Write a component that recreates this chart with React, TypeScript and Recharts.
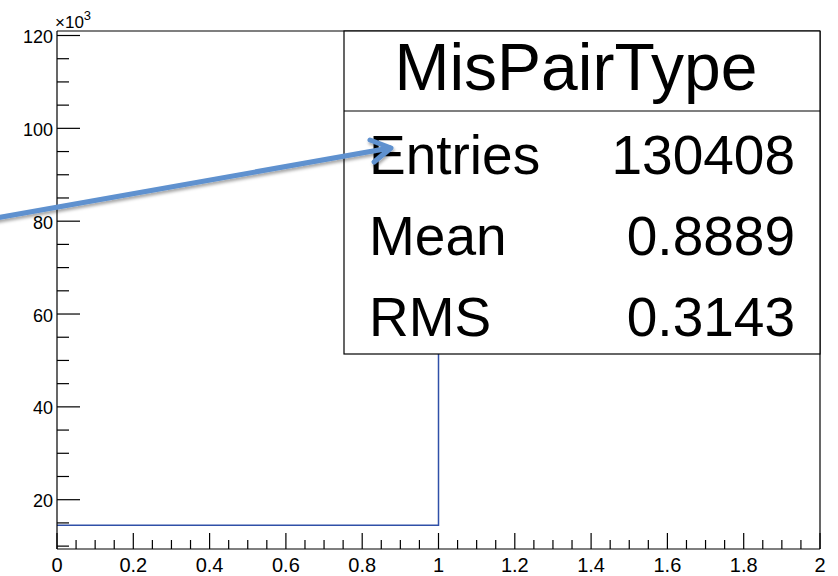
import React from 'react';
import { LineChart, Line, XAxis, YAxis } from 'recharts';

// histogram MisPairType, counts in units of 10^3
const binLowEdges = [0, 1, 2];
const binCounts = [14.49, 115.92, 115.92];

const xTicks = [
  0, 0.05, 0.1, 0.15, 0.2, 0.25, 0.3, 0.35, 0.4, 0.45, 0.5, 0.55, 0.6, 0.65, 0.7, 0.75, 0.8, 0.85, 0.9, 0.95,
  1, 1.05, 1.1, 1.15, 1.2, 1.25, 1.3, 1.35, 1.4, 1.45, 1.5, 1.55, 1.6, 1.65, 1.7, 1.75, 1.8, 1.85, 1.9, 1.95, 2,
];
const xLabels = [0, 0.2, 0.4, 0.6, 0.8, 1, 1.2, 1.4, 1.6, 1.8, 2];
const yTicks = [10, 15, 20, 25, 30, 35, 40, 45, 50, 55, 60, 65, 70, 75, 80, 85, 90, 95, 100, 105, 110, 115, 120];
const yLabels = [20, 40, 60, 80, 100, 120];

const statTitle = 'MisPairType';
const statNames = ['Entries', 'Mean', 'RMS'];
const statValues = ['130408', '0.8889', '0.3143'];

const data = binLowEdges.map((x, i) => ({ x, y: binCounts[i] }));

const W = 838;
const H = 576;
const LEFT = 57;
const RIGHT = 820;
const TOP = 31;
const BOTTOM = 549;
const font = '"Liberation Sans", Arial, Helvetica, sans-serif';

const near = (list: number[], v: number) => list.some((l) => Math.abs(l - v) < 1e-6);

const YTick = (props: any) => {
  const { y, payload } = props;
  const v = payload.value;
  const major = near(yLabels, v);
  return (
    <g>
      <line x1={LEFT} x2={LEFT + (major ? 23 : 12)} y1={y} y2={y} stroke="#000" strokeWidth={1.2} />
      {major && (
        <text x={LEFT - 4} y={y + 1.5} textAnchor="end" dominantBaseline="central" fontSize={18} fontFamily={font} fill="#000">
          {v}
        </text>
      )}
    </g>
  );
};

const XTick = (props: any) => {
  const { x, payload } = props;
  const v = payload.value;
  const major = near(xLabels, v);
  return (
    <g>
      <line x1={x} x2={x} y1={BOTTOM} y2={BOTTOM - (major ? 16 : 9)} stroke="#000" strokeWidth={1.2} />
      {major && (
        <text x={x} y={572} textAnchor="middle" fontSize={20} fontFamily={font} fill="#000">
          {String(v)}
        </text>
      )}
    </g>
  );
};

export default function App() {
  const bx = 344;
  const by = TOP;
  const bw = RIGHT - bx;
  const bh = 323;
  return (
    <div style={{ position: 'absolute', left: 0, top: 0, width: W, height: H, background: '#fff' }}>
      <LineChart width={W} height={H} data={data} margin={{ top: TOP, right: W - RIGHT, bottom: 0, left: 0 }}>
        <XAxis
          dataKey="x"
          type="number"
          domain={[0, 2]}
          ticks={xTicks}
          interval={0}
          height={H - BOTTOM}
          tickSize={0}
          tickMargin={0}
          tickLine={false}
          tick={<XTick />}
          axisLine={{ stroke: '#000', strokeWidth: 1.2 }}
        />
        <YAxis
          type="number"
          domain={[9.38, 120.97]}
          allowDataOverflow
          ticks={yTicks}
          interval={0}
          width={LEFT}
          tickSize={0}
          tickMargin={0}
          tickLine={false}
          tick={<YTick />}
          axisLine={{ stroke: '#000', strokeWidth: 1.2 }}
        />
        <Line
          type="stepAfter"
          dataKey="y"
          stroke="#3050a8"
          strokeWidth={1.5}
          dot={false}
          activeDot={false}
          isAnimationActive={false}
        />
      </LineChart>
      <svg width={W} height={H} style={{ position: 'absolute', left: 0, top: 0, pointerEvents: 'none' }}>
        <defs>
          <filter id="shadow" x="-10%" y="-50%" width="120%" height="200%">
            <feDropShadow dx="1" dy="2.5" stdDeviation="1.5" floodColor="#000" floodOpacity="0.35" />
          </filter>
        </defs>
        {/* frame top and right */}
        <line x1={LEFT} x2={RIGHT} y1={TOP} y2={TOP} stroke="#000" strokeWidth={1.2} />
        <line x1={RIGHT} x2={RIGHT} y1={TOP} y2={BOTTOM} stroke="#000" strokeWidth={1.2} />
        {/* x10^3 */}
        <text x={55} y={28} fontSize={17} fontFamily={font} fill="#000">
          ×10
          <tspan fontSize={13} dy={-8}>3</tspan>
        </text>
        {/* stats box */}
        <rect x={bx} y={by} width={bw} height={bh} fill="#fff" stroke="#000" strokeWidth={1.2} />
        <line x1={bx} x2={bx + bw} y1={111} y2={111} stroke="#000" strokeWidth={1.2} />
        <text x={bx + bw / 2 - 6} y={90} textAnchor="middle" fontSize={66} fontFamily={font} fill="#000">
          {statTitle}
        </text>
        {statNames.map((n, i) => (
          <g key={n}>
            <text x={369} y={174 + i * 81} fontSize={55} fontFamily={font} fill="#000">
              {n}
            </text>
            <text x={795} y={174 + i * 81} textAnchor="end" fontSize={55} fontFamily={font} fill="#000">
              {statValues[i]}
            </text>
          </g>
        ))}
        {/* annotation arrow */}
        <g filter="url(#shadow)" stroke="#5e91cf" strokeWidth={5} fill="none" strokeLinecap="round" strokeLinejoin="round">
          <line x1={-4} y1={218} x2={390} y2={148} />
          <polyline points="370,140 391,148 374,162" />
        </g>
      </svg>
    </div>
  );
}
